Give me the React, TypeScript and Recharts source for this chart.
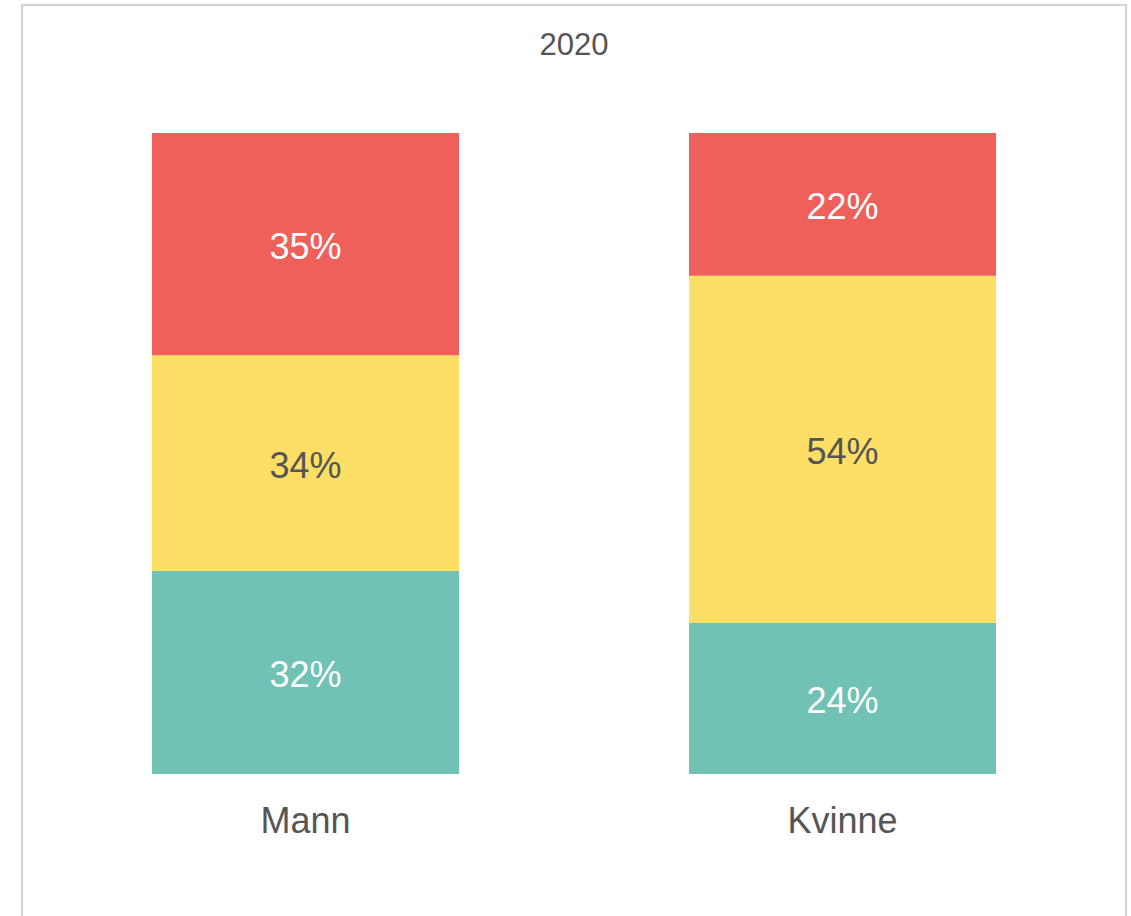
import React from 'react';
import { BarChart, Bar, XAxis, YAxis, LabelList } from 'recharts';

const categories = ['Mann', 'Kvinne'];
const hoyValues = [35, 22.3];
const middelsValues = [34, 54.2];
const lavValues = [32, 23.6];

const FONT = '"Liberation Sans", Arial, sans-serif';

const data = categories.map((name, i) => ({
  name,
  lav: lavValues[i],
  middels: middelsValues[i],
  hoy: hoyValues[i],
}));

const pct = (v: any) => `${Math.round(Number(v))}%`;

export default function App() {
  return (
    <div
      style={{
        position: 'fixed',
        left: 21,
        top: 4,
        width: 1106,
        height: 1000,
        boxSizing: 'border-box',
        border: '2px solid #d3d3d3',
        background: '#fff',
        fontFamily: FONT,
      }}
    >
      <div
        style={{
          position: 'absolute',
          top: 23,
          left: 0,
          width: '100%',
          textAlign: 'center',
          fontSize: 31,
          lineHeight: '31px',
          color: '#555555',
        }}
      >
        2020
      </div>
      <BarChart
        width={1102}
        height={900}
        data={data}
        stackOffset="expand"
        margin={{ top: 127, right: 14, bottom: 72, left: 14 }}
      >
        <XAxis
          dataKey="name"
          axisLine={false}
          tickLine={false}
          height={60}
          tickMargin={27}
          tick={{ fontSize: 36, fill: '#555555', fontFamily: FONT }}
        />
        <YAxis hide domain={[0, 1]} />
        <Bar dataKey="lav" stackId="a" fill="#70c3b4" barSize={307} isAnimationActive={false}>
          <LabelList dataKey="lav" position="center" formatter={pct} fill="#ffffff" fontSize={36} fontFamily={FONT} dy={2} />
        </Bar>
        <Bar dataKey="middels" stackId="a" fill="#fcdf64" barSize={307} isAnimationActive={false}>
          <LabelList dataKey="middels" position="center" formatter={pct} fill="#555555" fontSize={36} fontFamily={FONT} dy={2} />
        </Bar>
        <Bar dataKey="hoy" stackId="a" fill="#f0605a" barSize={307} isAnimationActive={false}>
          <LabelList dataKey="hoy" position="center" formatter={pct} fill="#ffffff" fontSize={36} fontFamily={FONT} dy={2} />
        </Bar>
      </BarChart>
    </div>
  );
}
